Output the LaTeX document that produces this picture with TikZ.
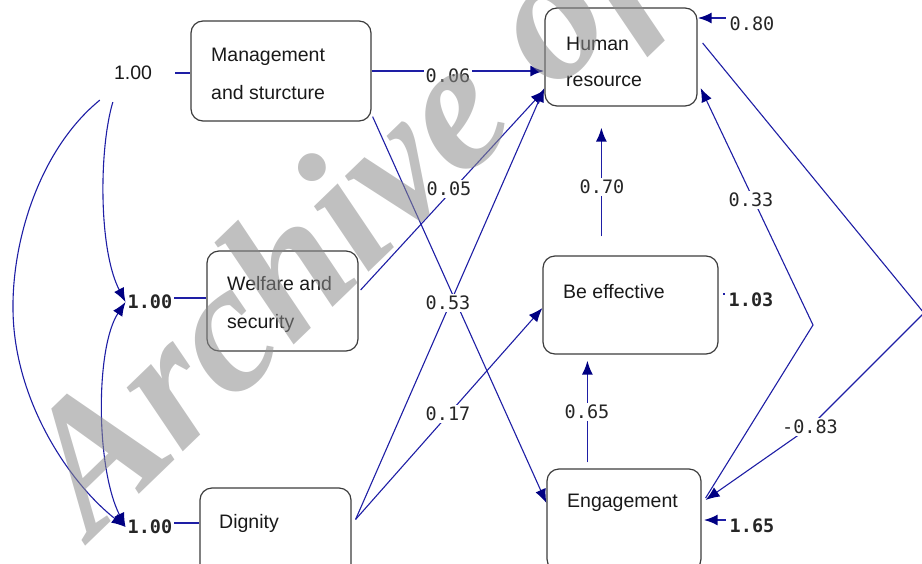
\documentclass[tikz,border=0pt]{standalone}
\usepackage{fontspec}
\setmainfont{Liberation Sans}
\newfontfamily\numfont{DejaVu Sans Mono}
\newfontfamily\wmfont{Liberation Serif}
\usetikzlibrary{arrows.meta,calc}
\definecolor{ln}{RGB}{30,30,165}
\definecolor{hd}{RGB}{0,0,130}
\definecolor{bx}{RGB}{60,60,60}
\pgfdeclarelayer{bg}
\pgfdeclarelayer{fg}
\pgfsetlayers{bg,main,fg}
\tikzset{
  box/.style={draw=bx, line width=1.2pt, rounded corners=12pt, inner sep=0pt},
  txt/.style={anchor=base west, inner sep=0pt, font=\fontsize{19.5}{20}\selectfont, text=black!90},
  num/.style={font=\numfont\fontsize{18.5}{19}\selectfont, inner sep=2pt, fill=white, text=black!85},
  bnum/.style={num, font=\numfont\bfseries\fontsize{18.5}{19}\selectfont},
  slbl/.style={font=\fontsize{19.5}{20}\selectfont, inner sep=1pt, text=black!90},
  lnthin/.style={draw=ln, line width=1.1pt},
  lnthick/.style={draw=ln, line width=2.4pt},
  lnmid/.style={draw=ln, line width=1.8pt},
  arr/.style={-{Latex[length=14pt,width=11pt,color=hd]}},
  darr/.style={{Latex[length=14pt,width=11pt,color=hd]}-{Latex[length=14pt,width=11pt,color=hd]}},
  wm/.style={font=\wmfont\bfseries\itshape\fontsize{185}{185}\selectfont, text=black!45, opacity=0.55, inner sep=0pt}
}
\begin{document}
\begin{tikzpicture}[x=1pt,y=-1pt]
\useasboundingbox (0,0) rectangle (922,563);
\clip (0,0) rectangle (922,563);
% boxes
\node[box, minimum width=180pt, minimum height=100pt] (mg) at (281,71) {};
\node[box, minimum width=152pt, minimum height=98pt] (hr) at (621,57) {};
\node[box, minimum width=151pt, minimum height=100pt] (wf) at (282.5,301) {};
\node[box, minimum width=175pt, minimum height=98pt] (be) at (630.5,305) {};
\node[box, minimum width=151pt, minimum height=102pt] (dg) at (275.5,539) {};
\node[box, minimum width=154pt, minimum height=102pt] (en) at (624,520) {};
% box texts
\node[txt] (t1) at (211,61) {Management};
\node[txt] (t2) at (211,99) {and sturcture};
\node[txt] (t3) at (566,50) {Human};
\node[txt] (t4) at (566,86) {resource};
\node[txt] (t5) at (227,290) {Welfare and};
\node[txt] (t6) at (227,328) {security};
\node[txt] (t7) at (563,298) {Be effective};
\node[txt] (t8) at (219,528) {Dignity};
\node[txt] (t9) at (567,507) {Engagement};
% labels
\node[slbl] (v1) at (133,73) {1.00};
\node[bnum] (w1) at (150,302) {1.00};
\node[bnum] (d1) at (150,527) {1.00};
\node[num] (l06) at (448,76) {0.06};
\node[num] (l05) at (449,189) {0.05};
\node[num] (l53) at (448,303) {0.53};
\node[num] (l17) at (448,414) {0.17};
\node[num] (l70) at (602,187) {0.70};
\node[num] (l65) at (587,412) {0.65};
\node[num] (r80) at (752,24) {0.80};
\node[bnum] (r103) at (751,300) {1.03};
\node[bnum] (r165) at (752,526) {1.65};
\node[num] (l33) at (751,200) {0.33};
\node[num] (l83) at (810,427) {-0.83};
% helper coordinates
\coordinate (a1) at ($(v1.south west)+(0,21)$);
\coordinate (b1) at ($(v1.south west)+(-13,19)$);
\coordinate (kB) at (13,310);
\coordinate (w1o) at ($(w1.east)+(0,-4)$);
\coordinate (d1o) at ($(d1.east)+(0,-4)$);
\coordinate (dgo) at ($(dg.north east)+(4,32)$);
\coordinate (s70) at ($(be.north west)+(59,-19)$);
\coordinate (s65) at ($(en.north west)+(41,-6)$);
\coordinate (c80) at ($(r80.west)+(-2,-6)$);
\coordinate (c103) at ($(r103.west)+(-2,-6)$);
\coordinate (c165) at ($(r165.west)+(-2,-6)$);
\coordinate (k33) at (813,325);
\coordinate (k83) at (924,313);
\begin{pgfonlayer}{bg}
% variance lines
\draw[lnthick, shorten <=22pt] (v1.east) -- (v1.east -| mg.west);
\draw[lnthick] (w1o) -- (w1o -| wf.west);
\draw[lnthick] (d1o) -- (d1o -| dg.west);
% covariances
\draw[lnthin, arr] (a1) .. controls +(-14,47) and +(-27,-52) .. (w1.west);
\draw[lnthin, arr] (b1) .. controls +(-60,49) and +(-1,-70) .. (kB) .. controls +(1,90) and +(-57,-45) .. (d1.west);
\draw[lnthin, darr] (w1.west) .. controls +(-30,45) and +(-30,-60) .. (d1.west);
% paths
\draw[lnthick, arr] (mg.east) -- (mg.east -| hr.west);
\draw[lnthin, arr] ($(wf.east)+(2,-11)$) -- ($(hr.west)+(0,33)$);
\draw[lnthin, arr] (dgo) -- ($(hr.west)+(0,31)$);
\draw[lnthin, arr] (dgo) -- ($(be.west)+(0,3)$);
\draw[lnthin, arr] ($(mg.south east)+(1,-5)$) -- ($(en.west)+(0,-17)$);
\draw[lnmid, arr, shorten >=21pt] (s70) -- (s70 |- hr.south);
\draw[lnmid, arr, shorten >=6pt] (s65) -- (s65 |- be.south);
% residuals
\draw[lnthick, arr] (c80) -- (c80 -| hr.east);
\draw[lnthin, shorten >=4pt] (c103) -- (c103 -| be.east);
\draw[lnthick, arr, shorten >=2pt] (c165) -- (c165 -| en.east);
% right side
\draw[lnthin, arr] ($(en.east)+(4,-22)$) -- (k33) -- ($(hr.east)+(3,31)$);
\draw[lnthin, arr] ($(hr.east)+(5,-14)$) -- (k83) -- (l83.center) -- ($(en.east)+(4,-20)$);
\end{pgfonlayer}
\begin{pgfonlayer}{fg}
\node[wm, rotate=44, anchor=base west] (wmk) at (92,540) {Archive of SID};
\end{pgfonlayer}
\end{tikzpicture}
\end{document}
